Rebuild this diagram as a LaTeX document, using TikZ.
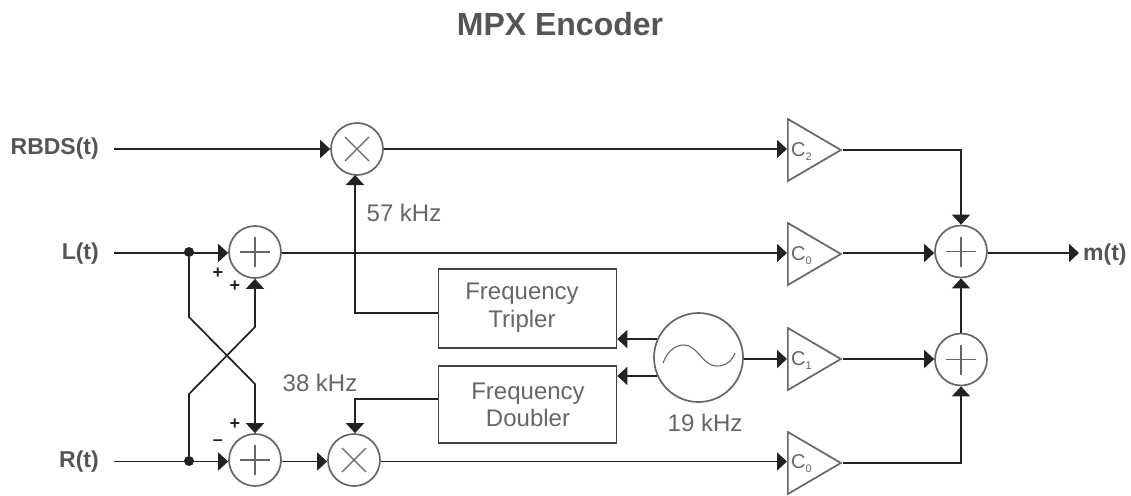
\documentclass[tikz,border=0pt]{standalone}
\usepackage{fontspec}
\setmainfont{Liberation Sans}
\usetikzlibrary{arrows.meta,shapes.geometric}
\definecolor{shp}{HTML}{666666}
\definecolor{lin}{HTML}{222222}
\definecolor{txt}{HTML}{666666}
\definecolor{bld}{HTML}{555555}
\newcommand{\gsub}[1]{\raisebox{-4pt}{\fontsize{11}{11}\selectfont #1}}
\tikzset{
  x=1pt,y=-1pt,
  wire/.style={draw=lin,line width=1.7pt,line join=miter},
  arr/.style={wire,-{Triangle[length=10pt,width=18pt]}},
  circ/.style={circle,draw=shp,line width=1.7pt,inner sep=0pt,minimum size=52pt,fill=white},
  adder/.style={circ,path picture={
    \draw[shp,line width=1.1pt] ([xshift=-15pt]path picture bounding box.center) -- ([xshift=15pt]path picture bounding box.center);
    \draw[shp,line width=1.1pt] ([yshift=-15pt]path picture bounding box.center) -- ([yshift=15pt]path picture bounding box.center);}},
  multi/.style={circ,path picture={
    \draw[shp,line width=1.1pt] ([shift={(-12pt,-12pt)}]path picture bounding box.center) -- ([shift={(12pt,12pt)}]path picture bounding box.center);
    \draw[shp,line width=1.1pt] ([shift={(-12pt,12pt)}]path picture bounding box.center) -- ([shift={(12pt,-12pt)}]path picture bounding box.center);}},
  dot/.style={circle,fill=lin,inner sep=0pt,minimum size=10pt},
  gain/.style={isosceles triangle,isosceles triangle apex angle=60,isosceles triangle stretches,draw=shp,line width=1.7pt,inner sep=0pt,minimum height=53pt,minimum width=62pt,anchor=lower side},
  gtxt/.style={text=txt,font=\fontsize{20}{20}\selectfont,inner sep=0pt,anchor=base west},
  box/.style={rectangle,draw=lin!85!white,line width=1.5pt,minimum width=178pt,inner sep=0pt},
  lab/.style={text=txt,font=\fontsize{24}{24}\selectfont,inner sep=0pt},
  blab/.style={text=bld,font=\fontsize{23}{23}\bfseries\selectfont,inner sep=0pt},
  sign/.style={text=lin,font=\fontsize{18}{18}\bfseries\selectfont,inner sep=0pt},
}
\begin{document}
\begin{tikzpicture}
\useasboundingbox (0,0) rectangle (1131,495);
\node[text=bld,font=\fontsize{32}{32}\bfseries\selectfont] (title) at (560,24) {MPX Encoder};
\node[blab,anchor=east] (lrbds) at (99,148.5) {RBDS(t)};
\node[blab,anchor=east] (ll) at (99,254) {L(t)};
\node[blab,anchor=east] (lr) at (99,462) {R(t)};
\node[blab,anchor=west] (lm) at (1083,255) {m(t)};
\coordinate (srbds) at (114,149);
\coordinate (sl) at (114,253);
\coordinate (sr) at (114,461.5);
\coordinate (em) at (1079,253);
\node[multi] (m1) at (357,149) {};
\node[adder] (a1) at (255,252) {};
\node[adder] (a2) at (255,460) {};
\node[multi] (m2) at (354,460) {};
\node[adder] (a3) at (961,251.5) {};
\node[adder] (a4) at (961,359.5) {};
\node[dot] (d1) at (189,252) {};
\node[dot] (d2) at (189,461) {};
\node[box,minimum height=79pt] (trip) at (527.5,308.5) {};
\node[box,minimum height=77pt] (doub) at (527.5,404.5) {};
\node[lab,align=center,font=\fontsize{24}{28}\selectfont] (ttrip) at (522,307.5) {Frequency\\Tripler};
\node[lab,align=center,font=\fontsize{24}{27}\selectfont] (tdoub) at (528,404.5) {Frequency\\Doubler};
\node[circ,minimum size=89pt] (osc) at (698.5,357.5) {};
\node[lab] (f19) at (705,423) {19 kHz};
\node[lab] (f57) at (404,213) {57 kHz};
\node[lab] (f38) at (320,383) {38 kHz};
\node[gain] (c2) at (787,150) {};
\node[gain] (c0a) at (787,254) {};
\node[gain] (c1) at (787,359) {};
\node[gain] (c0b) at (787,463) {};
\node[gtxt] (tc2) at (791,156) {C\gsub{2}};
\node[gtxt] (tc0a) at (791,260) {C\gsub{0}};
\node[gtxt] (tc1) at (791,365) {C\gsub{1}};
\node[gtxt] (tc0b) at (791,468) {C\gsub{0}};
\node[sign] (p1) at (218,273) {+};
\node[sign] (p2) at (235,286) {+};
\node[sign] (p3) at (235,424) {+};
\node[sign] (p4) at (218,443) {–};
% sine
\draw[shp,line width=1.1pt] (663,363) .. controls (668,350) and (676,345) .. (684,345) .. controls (698,345) and (702,366) .. (717,366) .. controls (726,366) and (732,361) .. (735,353);
% wires
\draw[arr] (srbds) -- (m1.west);
\draw[arr] (m1.east) -- (c2.lower side |- m1.east);
\draw[wire] (sl) -- (d1.center |- sl);
\draw[arr] (d1.center |- sl) -- (a1.west |- sl);
\draw[wire] (sr) -- (d2.center |- sr);
\draw[arr] (d2.center |- sr) -- (a2.west |- sr);
\draw[arr] (a2.east |- sr) -- (m2.west |- sr);
\draw[arr] (a1.east |- sl) -- (c0a.lower side |- sl);
\draw[arr] (m2.east |- sr) -- (c0b.lower side |- sr);
\draw[arr] (d1) -- (189,317) -- (255,384) -- (a2.north);
\draw[arr] (d2) -- (189,394) -- (255,327) -- (a1.south);
\draw[arr] (trip.west |- 0,313) -- (355,313) -- (355,175);
\draw[arr] (doub.west |- 0,399) -- (355,399) -- (m2.north -| 355,0);
\draw[arr] (osc.156) -- (trip.east |- osc.156);
\draw[arr] (osc.204) -- (doub.east |- osc.204);
\draw[arr] (osc.east |- c1.lower side) -- (c1.lower side);
\draw[arr] (c2.apex) -| (a3.north);
\draw[arr] (c0a.apex |- sl) -- (a3.west |- sl);
\draw[arr] (c1.apex) -- (a4.west |- c1.apex);
\draw[arr] (c0b.apex) -| (a4.south);
\draw[arr] (a4.north) -- (a3.south);
\draw[arr] (a3.east |- em) -- (em);
\end{tikzpicture}
\end{document}
